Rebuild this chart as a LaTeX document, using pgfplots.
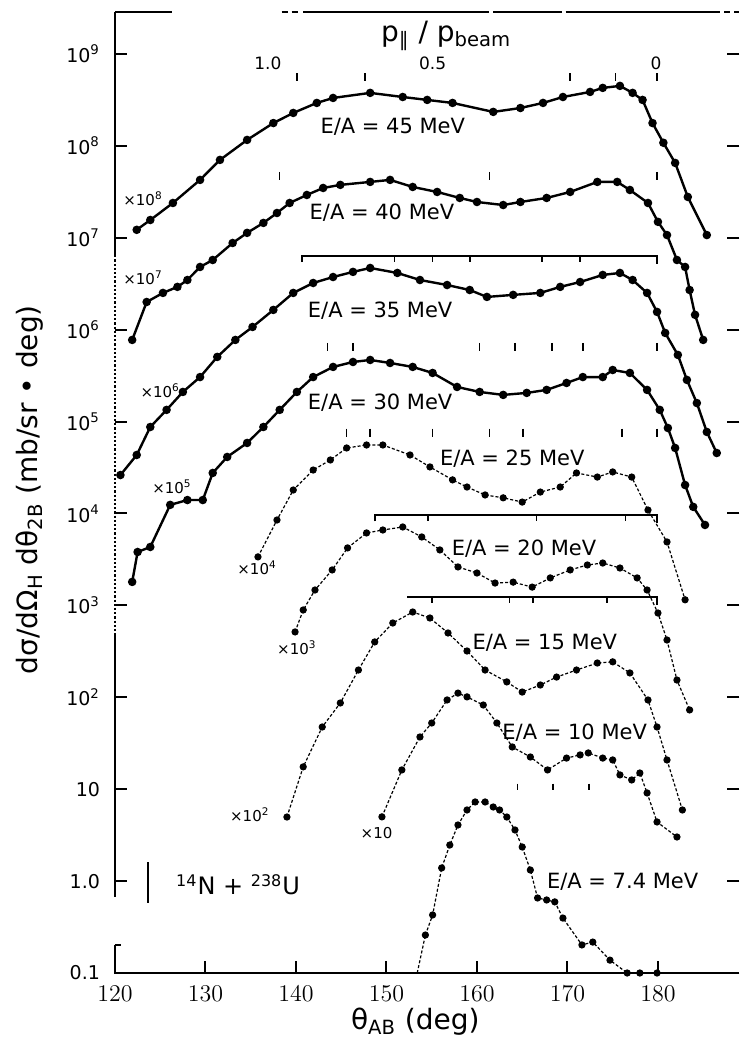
\documentclass[border=0pt]{standalone}
\usepackage{fontspec}
\setmainfont{DejaVu Sans}
\usepackage{pgfplots}
\pgfplotsset{compat=1.18}

\pgfplotsset{
  hi/.style={black, line width=1.2pt, mark=*, mark size=1.5pt, mark options={solid}},
  lo/.style={black, line width=0.6pt, dash pattern=on 1.5pt off 1pt, mark=*, mark size=1.5pt, mark options={solid}},
}
\newcommand{\fs}[1]{\fontsize{#1}{#1}\selectfont}

\begin{document}
\begin{tikzpicture}
\begin{axis}[
  name=ax,
  scale only axis,
  width=312.2pt, height=480.5pt,
  xmin=120, xmax=189,
  ymode=log, ymin=0.1, ymax=2.86e9,
  clip=false,
  axis line style={draw=none},
  tick align=inside,
  major tick length=6pt,
  every tick/.style={black, line width=1pt},
  xtick={120,130,...,180},
  xtick pos=bottom,
  ytick={0.1,1,10,100,1e3,1e4,1e5,1e6,1e7,1e8,1e9},
  yticklabels={0.1,1.0,10,10\textsuperscript{2},10\textsuperscript{3},10\textsuperscript{4},10\textsuperscript{5},10\textsuperscript{6},10\textsuperscript{7},10\textsuperscript{8},10\textsuperscript{9}},
  ytick pos=both, yticklabel pos=left,
  yminorticks=false,
  xticklabel style={font=\fs{11.5}, yshift=-3pt},
  yticklabel style={font=\fs{9.5}, xshift=-4pt},
]

% E/A = 45 MeV
\addplot[hi] coordinates {(122.4,1.22e7) (123.9,1.56e7) (126.4,2.39e7) (129.4,4.26e7) (131.6,7.03e7) (134.6,1.16e8) (137.5,1.77e8) (139.7,2.28e8) (142.3,2.93e8) (144.1,3.32e8) (148.2,3.77e8) (151.8,3.40e8) (154.5,3.16e8) (157.3,2.93e8) (161.8,2.34e8) (164.8,2.58e8) (167.3,2.93e8) (169.5,3.40e8) (172.5,3.86e8) (173.9,4.27e8) (175.8,4.49e8) (177.2,3.77e8) (178.3,3.16e8) (179.4,1.77e8) (180.6,1.08e8) (181.9,6.52e7) (183.3,2.78e7) (185.4,1.07e7)};
% E/A = 40 MeV
\addplot[hi] coordinates {(121.9,7.73e5) (123.5,2.0e6) (125.3,2.51e6) (126.9,2.92e6) (128.0,3.47e6) (129.4,4.81e6) (130.8,5.73e6) (133.0,8.77e6) (134.6,1.13e7) (136.4,1.45e7) (137.9,1.86e7) (139.3,2.39e7) (141.2,2.92e7) (143.0,3.48e7) (144.9,3.76e7) (148.2,4.05e7) (150.4,4.26e7) (152.9,3.57e7) (155.6,3.15e7) (158.1,2.71e7) (160.0,2.45e7) (162.9,2.27e7) (164.8,2.45e7) (167.7,2.71e7) (170.3,3.15e7) (173.3,4.05e7) (175.5,4.05e7) (176.9,3.31e7) (178.9,2.39e7) (180.0,1.49e7) (181.0,1.07e7) (182.1,5.73e6) (183.0,4.81e6) (183.5,2.70e6) (184.1,1.45e6) (185.0,7.73e5)};
% E/A = 35 MeV
\addplot[hi] coordinates {(120.6,2.62e4) (122.4,4.33e4) (123.9,8.73e4) (125.7,1.34e5) (127.5,2.10e5) (129.4,3.05e5) (131.3,5.05e5) (133.3,7.73e5) (135.2,1.07e6) (137.5,1.64e6) (139.7,2.51e6) (141.9,3.22e6) (144.1,3.74e6) (146.3,4.25e6) (148.2,4.69e6) (151.2,4.14e6) (153.7,3.47e6) (156.7,3.06e6) (159.2,2.70e6) (161.1,2.27e6) (164.0,2.39e6) (167.0,2.51e6) (169.2,2.92e6) (171.4,3.30e6) (173.9,3.94e6) (175.8,4.14e6) (177.2,3.47e6) (178.8,2.51e6) (179.9,1.56e6) (180.8,9.21e5) (182.2,5.31e5) (183.2,2.84e5) (184.3,1.59e5) (185.4,7.71e4) (186.5,4.55e4)};
% E/A = 30 MeV
\addplot[hi] coordinates {(121.9,1.80e3) (122.5,3.81e3) (123.9,4.32e3) (126.1,1.24e4) (128.0,1.40e4) (129.7,1.40e4) (130.8,2.76e4) (132.4,4.12e4) (134.6,5.85e4) (136.4,8.73e4) (138.2,1.34e5) (140.1,2.10e5) (141.9,3.05e5) (144.1,3.93e5) (146.3,4.45e5) (148.2,4.68e5) (150.4,4.34e5) (152.9,3.93e5) (155.1,3.38e5) (157.8,2.38e5) (160.3,2.10e5) (162.9,1.95e5) (165.5,2.05e5) (167.7,2.21e5) (169.9,2.63e5) (171.7,3.05e5) (173.9,3.05e5) (175.0,3.64e5) (176.9,3.38e5) (178.8,2.21e5) (180.2,1.34e5) (181.1,8.51e4) (181.9,5.16e4) (183.0,2.04e4) (183.9,1.18e4) (185.2,7.50e3)};
% E/A = 25 MeV
\addplot[lo] coordinates {(135.8,3.37e3) (137.9,8.49e3) (139.7,1.80e4) (141.9,2.97e4) (143.8,3.82e4) (145.6,5.16e4) (147.8,5.56e4) (149.6,5.56e4) (152.6,4.33e4) (154.8,3.21e4) (157.3,2.32e4) (158.9,1.94e4) (160.9,1.59e4) (162.9,1.48e4) (165.0,1.33e4) (167.0,1.71e4) (169.2,1.94e4) (171.0,2.76e4) (173.3,2.49e4) (175.0,2.83e4) (177.1,2.49e4) (178.9,1.09e4) (181.0,4.90e3) (183.0,1.15e3)};
% E/A = 20 MeV
\addplot[lo] coordinates {(139.9,514) (140.8,891) (142.1,1.47e3) (144.0,2.43e3) (145.7,4.22e3) (147.8,6.14e3) (149.6,6.61e3) (151.8,7.13e3) (153.9,5.55e3) (155.9,4.01e3) (157.9,2.62e3) (160.0,2.25e3) (162.0,1.75e3) (164.0,1.79e3) (166.1,1.58e3) (168.1,1.99e3) (170.3,2.43e3) (172.2,2.75e3) (173.9,2.89e3) (175.8,2.55e3) (177.7,1.99e3) (178.8,1.47e3) (180.0,826) (181.0,420) (182.1,154) (183.5,72.8)};
% E/A = 15 MeV
\addplot[lo] coordinates {(139.0,4.98) (140.8,17.5) (142.9,47.5) (144.9,86.7) (146.9,198) (148.7,400) (150.7,643) (152.9,847) (154.8,729) (156.8,501) (158.9,319) (160.9,198) (163.3,147) (165.0,114) (167.0,136) (168.8,166) (171.0,198) (173.3,236) (175.0,243) (176.9,184) (178.9,93.5) (179.9,47.5) (181.0,20.8) (182.7,5.94)};
% E/A = 10 MeV
\addplot[lo] coordinates {(149.5,5.0) (151.7,16.2) (153.7,37.0) (155.0,52.5) (156.7,93.5) (157.9,111) (158.9,101) (160.7,82.4) (162.2,52.5) (163.9,28.8) (165.9,22.4) (167.8,16.2) (169.9,21.8) (171.4,23.6) (172.3,24.8) (173.9,21.8) (175.0,20.8) (175.8,14.3) (177.1,12.6) (178.0,15.0) (178.8,9.10) (179.9,4.40) (182.1,3.02)};
% E/A = 7.4 MeV
\addplot[lo, no marks] coordinates {(153.4,0.1) (154.3,0.259)};
\addplot[lo] coordinates {(154.3,0.259) (155.1,0.428) (156.1,1.39) (157.0,2.47) (157.9,4.08) (158.9,5.94) (159.8,7.26) (160.9,7.26) (161.8,6.40) (162.5,5.94) (163.3,4.98) (164.2,3.60) (165.0,2.35) (165.9,1.32) (166.7,0.655) (167.7,0.623) (168.6,0.594) (169.5,0.396) (171.6,0.202) (172.8,0.217) (174.7,0.138) (176.6,0.10) (178.0,0.10) (179.9,0.10)};

% axis frame, drawn in pieces as on the scan
\draw[line width=1.1pt] (axis cs:120,2.86e9) -- (axis cs:120,6.46e6);
\draw[line width=1.1pt, densely dotted] (axis cs:120,6.46e6) -- (axis cs:120,478);
\draw[line width=1.1pt] (axis cs:120,478) -- (axis cs:120,0.671);
\draw[line width=1.1pt] (axis cs:120,0.202) -- (axis cs:120,0.1) -- (axis cs:189,0.1);
\draw[line width=1pt] (axis cs:120,0.202) -- ++(3pt,0pt);
\draw[line width=1.1pt] (axis cs:120,2.86e9) -- (axis cs:126.3,2.86e9);
\draw[line width=1.1pt, densely dashed] (axis cs:138.4,2.86e9) -- (axis cs:140.5,2.86e9);
\draw[line width=1.1pt] (axis cs:140.8,2.86e9) -- (axis cs:161.3,2.86e9);
\draw[line width=1.1pt] (axis cs:161.8,2.86e9) -- (axis cs:169.4,2.86e9);
\draw[line width=1.1pt] (axis cs:169.8,2.86e9) -- (axis cs:186.9,2.86e9);
\draw[line width=1.1pt, densely dashed] (axis cs:187.3,2.86e9) -- (axis cs:189,2.86e9);

% p_par / p_beam scales
\node[font=\fs{14}] at (axis cs:156.6,1.57e9) {p\textsubscript{∥} / p\textsubscript{beam}};
\node[font=\fs{8.5}] at (axis cs:136.9,7.9e8) {1.0};
\node[font=\fs{8.5}] at (axis cs:155.1,7.9e8) {0.5};
\node[font=\fs{8.5}] at (axis cs:179.8,7.9e8) {0};
\pgfplotsinvokeforeach{140.1,147.6,170.3,175.3,179.9}{\draw[line width=0.8pt] (axis cs:#1,6.2e8) -- ++(0pt,-4pt);}
\pgfplotsinvokeforeach{138.2,161.4,179.9}{\draw[line width=0.8pt] (axis cs:#1,5.2e7) -- ++(0pt,-4pt);}
\pgfplotsinvokeforeach{143.5,146.3,160.3,164.2,168.3,171.7,179.9}{\draw[line width=0.8pt] (axis cs:#1,7.2e5) -- ++(0pt,-4pt);}
\pgfplotsinvokeforeach{145.6,148.2,155.1,161.4,165.1,176.0,179.9}{\draw[line width=0.8pt] (axis cs:#1,8.4e4) -- ++(0pt,-4pt);}
\pgfplotsinvokeforeach{164.5,168.4,172.4}{\draw[line width=0.8pt] (axis cs:#1,11.5) -- ++(0pt,-3pt);}
\draw[line width=0.9pt] ([yshift=-3pt]axis cs:140.7,6.31e6) -- (axis cs:140.7,6.31e6) -- (axis cs:179.9,6.31e6) -- ++(0pt,-4pt);
\pgfplotsinvokeforeach{150.9,155.1,159.2,167.2,171.4}{\draw[line width=0.8pt] (axis cs:#1,6.31e6) -- ++(0pt,-3pt);}
\draw[line width=0.9pt] ([yshift=-3pt]axis cs:148.7,9.55e3) -- (axis cs:148.7,9.55e3) -- (axis cs:179.9,9.55e3) -- ++(0pt,-4pt);
\pgfplotsinvokeforeach{154.6,166.6,176.4}{\draw[line width=0.8pt] (axis cs:#1,9.55e3) -- ++(0pt,-3pt);}
\draw[line width=0.9pt] (axis cs:152.3,1.23e3) -- (axis cs:179.9,1.23e3) -- ++(0pt,-4pt);
\pgfplotsinvokeforeach{155.0,163.6,166.2,174.4}{\draw[line width=0.8pt] (axis cs:#1,1.23e3) -- ++(0pt,-3pt);}

% scale factors
\node[font=\fs{7.5}] at (axis cs:123.1,2.63e7) {×10\textsuperscript{8}};
\node[font=\fs{7.5}] at (axis cs:123.1,3.7e6) {×10\textsuperscript{7}};
\node[font=\fs{7.5}] at (axis cs:125.0,2.19e5) {×10\textsuperscript{6}};
\node[font=\fs{7.5}] at (axis cs:126.3,1.95e4) {×10\textsuperscript{5}};
\node[font=\fs{7.5}] at (axis cs:135.7,2.57e3) {×10\textsuperscript{4}};
\node[font=\fs{7.5}] at (axis cs:140.1,347) {×10\textsuperscript{3}};
\node[font=\fs{7.5}] at (axis cs:134.9,5.25) {×10\textsuperscript{2}};
\node[font=\fs{7.5}] at (axis cs:148.9,3.31) {×10};

% energies
\node[font=\fs{10.5}] at (axis cs:150.7,1.62e8) {E/A = 45 MeV};
\node[font=\fs{10.5}] at (axis cs:149.5,1.86e7) {E/A = 40 MeV};
\node[font=\fs{10.5}] at (axis cs:149.3,1.62e6) {E/A = 35 MeV};
\node[font=\fs{10.5}] at (axis cs:149.3,1.62e5) {E/A = 30 MeV};
\node[font=\fs{10.5}] at (axis cs:163.9,3.98e4) {E/A = 25 MeV};
\node[font=\fs{10.5}] at (axis cs:165.2,4.17e3) {E/A = 20 MeV};
\node[font=\fs{10.5}] at (axis cs:167.5,389) {E/A = 15 MeV};
\node[font=\fs{10.5}] at (axis cs:170.8,41.7) {E/A = 10 MeV};
\node[font=\fs{10.5}] at (axis cs:176.1,0.977) {E/A = 7.4 MeV};

% reaction
\draw[line width=1pt] (axis cs:123.6,1.61) -- (axis cs:123.6,0.578);
\node[font=\fs{12}] at (axis cs:133.6,0.91) {\textsuperscript{14}N + \textsuperscript{238}U};

% axis titles
\node[font=\fs{14}, rotate=90] at (rel axis cs:-0.136,0.503) {dσ/dΩ\textsubscript{H} dθ\textsubscript{2B} (mb/sr • deg)};
\node[font=\fs{14}] at (rel axis cs:0.481,-0.051) {θ\textsubscript{AB} (deg)};
\end{axis}
\path ([xshift=-57.5pt,yshift=-36pt]ax.south west) rectangle ([yshift=6pt]ax.north east);
\end{tikzpicture}
\end{document}
